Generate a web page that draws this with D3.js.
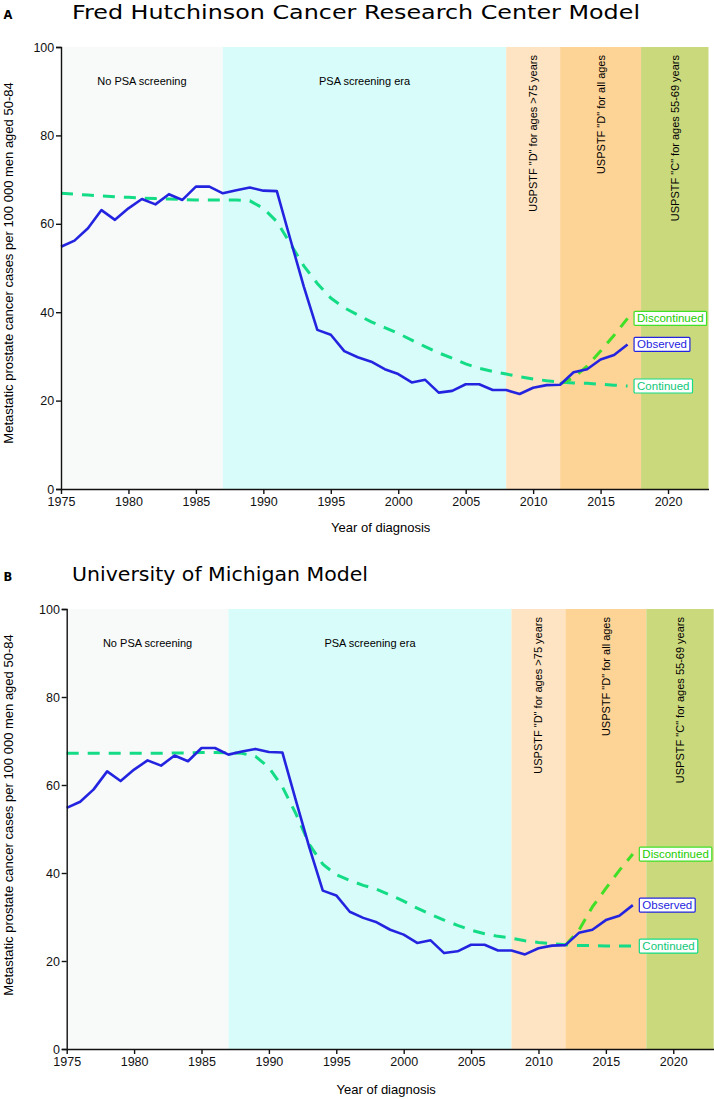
<!DOCTYPE html>
<html><head><meta charset="utf-8">
<script src="https://cdn.jsdelivr.net/npm/d3@7"></script>
<style>body{margin:0;background:#fff}</style>
</head><body>
<svg id="chart" width="714" height="1099"></svg>
<script>
// ---------- data ----------
const years = [1975,1976,1977,1978,1979,1980,1981,1982,1983,1984,1985,1986,1987,1988,1989,1990,1991,1992,1993,1994,1995,1996,1997,1998,1999,2000,2001,2002,2003,2004,2005,2006,2007,2008,2009,2010,2011,2012,2013,2014,2015,2016,2017];
const observed = [54.8,56.2,59.0,63.1,60.9,63.5,65.6,64.4,66.7,65.4,68.4,68.4,66.9,67.6,68.2,67.5,67.4,56.5,45.8,36.0,34.9,31.2,29.8,28.8,27.1,26.0,24.1,24.7,21.8,22.2,23.7,23.7,22.4,22.4,21.5,22.9,23.5,23.6,26.4,27.1,29.3,30.3,32.7];
const fhContinued = [66.9,66.7,66.5,66.3,66.1,66.0,65.8,65.7,65.6,65.5,65.4,65.4,65.4,65.4,65.2,63.5,60.5,55.5,50.5,46.5,43.2,41.0,39.4,37.8,36.5,35.2,33.7,32.2,30.8,29.6,28.3,27.3,26.6,26.0,25.4,24.9,24.5,24.2,24.0,23.9,23.7,23.5,23.3];
const umContinued = [67.2,67.2,67.2,67.2,67.2,67.2,67.2,67.2,67.3,67.3,67.4,67.4,67.3,67.2,66.5,64.0,59.6,53.5,46.5,42.0,39.6,38.3,37.2,36.3,35.0,33.6,32.0,30.6,29.3,28.1,27.0,26.2,25.6,25.2,24.6,24.2,23.9,23.7,23.5,23.5,23.4,23.4,23.4];
const discYears = [2012,2013,2014,2015,2016,2017];
const fhDiscontinued = [23.8,25.2,27.8,31.2,34.8,38.6];
const umDiscontinued = [23.6,27.0,32.3,36.5,40.6,44.3];
const bandStarts = [1975,1987,2008,2012,2018];
const bandEnds = [1987,2008,2012,2018,2023];
const bandLabels = ["No PSA screening","PSA screening era",'USPSTF "D" for ages >75 years','USPSTF "D" for all ages','USPSTF "C" for ages 55-69 years'];
const bandVertical = [false,false,true,true,true];
const xTicks = [1975,1980,1985,1990,1995,2000,2005,2010,2015,2020];
const yTicks = [0,20,40,60,80,100];
const panelLetters = ["A","B"];
const panelTitles = ["Fred Hutchinson Cancer Research Center Model","University of Michigan Model"];
const seriesNames = ["Discontinued","Observed","Continued"];
const xTitle = "Year of diagnosis";
const yTitle = "Metastatic prostate cancer cases per 100 000 men aged 50-84";

// ---------- styles / layout ----------
const bandColors = ["#f7faf9","#d8fcf9","#fee4c2","#fdd396","#cbd97d"];
const colObserved = "#2424e0";
const colContinued = "#14dc86";
const colDiscont = "#3fe026";
const layouts = [
  {left:61, right:708.5, top:47, bottom:489, titleY:18.5, titleW:568, xLabY:532, yLabX:13, yLabY:263},
  {left:66.7, right:713.7, top:609, bottom:1049, titleY:581, titleW:296, xLabY:1094, yLabX:13, yLabY:815}
];
const continuedSets = [fhContinued, umContinued];
const discSets = [fhDiscontinued, umDiscontinued];

const svg = d3.select("#chart");

layouts.forEach((L, pi) => {
  const g = svg.append("g");
  const x = d3.scaleLinear().domain([1975, 2023]).range([L.left, L.right]);
  const y = d3.scaleLinear().domain([0, 100]).range([L.bottom, L.top]);

  // panel letter and title
  g.append("text").attr("x", 3.5).attr("y", L.titleY)
    .attr("font-family", "DejaVu Sans").attr("font-weight", "bold").attr("font-size", 11.5)
    .text(panelLetters[pi]);
  g.append("text").attr("x", 72).attr("y", L.titleY)
    .attr("font-family", "DejaVu Sans").attr("font-size", 19.5)
    .attr("textLength", L.titleW).attr("lengthAdjust", "spacingAndGlyphs")
    .text(panelTitles[pi]);

  // bands
  bandStarts.forEach((s, i) => {
    g.append("rect").attr("x", x(s)).attr("y", y(100))
      .attr("width", x(bandEnds[i]) - x(s)).attr("height", y(0) - y(100))
      .attr("fill", bandColors[i]);
    const cx = (x(s) + x(bandEnds[i])) / 2;
    if (bandVertical[i]) {
      g.append("text").attr("transform", `translate(${cx + 4},${y(100) + 8}) rotate(-90)`)
        .attr("text-anchor", "end").attr("font-family", "Liberation Sans").attr("font-size", 11)
        .text(bandLabels[i]);
    } else {
      g.append("text").attr("x", cx).attr("y", y(100) + 38)
        .attr("text-anchor", "middle").attr("font-family", "Liberation Sans").attr("font-size", 11)
        .text(bandLabels[i]);
    }
  });

  // lines
  const line = d3.line().x((d) => x(d[0])).y((d) => y(d[1]));
  const contData = years.map((yr, i) => [yr, continuedSets[pi][i]]);
  const discData = discYears.map((yr, i) => [yr, discSets[pi][i]]);
  const obsData = years.map((yr, i) => [yr, observed[i]]);
  g.append("path").datum(contData).attr("d", line).attr("fill", "none")
    .attr("stroke", colContinued).attr("stroke-width", 3).attr("stroke-dasharray", "12,9");
  g.append("path").datum(discData).attr("d", line).attr("fill", "none")
    .attr("stroke", colDiscont).attr("stroke-width", 3).attr("stroke-dasharray", "12,9");
  g.append("path").datum(obsData).attr("d", line).attr("fill", "none")
    .attr("stroke", colObserved).attr("stroke-width", 2.6).attr("stroke-linejoin", "round");

  // end labels
  const ends = [
    [discYears[discYears.length - 1], discSets[pi][discSets[pi].length - 1], colDiscont, "#22cc00"],
    [years[years.length - 1], observed[observed.length - 1], colObserved, colObserved],
    [years[years.length - 1], continuedSets[pi][continuedSets[pi].length - 1], colContinued, "#10c878"]
  ];
  ends.forEach((e, i) => {
    const lg = g.append("g").attr("transform", `translate(${x(e[0]) + 6},${y(e[1])})`);
    const t = lg.append("text").attr("x", 3.5).attr("y", 4)
      .attr("font-family", "Liberation Sans").attr("font-size", 11.5).attr("fill", e[3])
      .text(seriesNames[i]);
    const w = t.node().getComputedTextLength();
    lg.insert("rect", "text").attr("x", 0.5).attr("y", -7).attr("width", w + 6).attr("height", 14)
      .attr("fill", "#fff").attr("stroke", e[2]).attr("stroke-width", 1.2).attr("rx", 1);
  });

  // axes
  const xa = g.append("g").attr("transform", `translate(0,${L.bottom})`)
    .call(d3.axisBottom(x).tickValues(xTicks).tickFormat(d3.format("d")).tickSize(5).tickSizeOuter(0));
  const ya = g.append("g").attr("transform", `translate(${L.left},0)`)
    .call(d3.axisLeft(y).tickValues(yTicks).tickSize(5).tickSizeOuter(5));
  [xa, ya].forEach((a) => {
    a.selectAll("path,line").attr("stroke", "#111").attr("stroke-width", 1.4);
    a.selectAll("text").attr("font-family", "Liberation Sans").attr("font-size", 12.5).attr("fill", "#111");
  });
  ya.selectAll("text").attr("dx", "0.1em");

  // axis titles
  g.append("text").attr("x", (L.left + L.right) / 2 - 4).attr("y", L.xLabY)
    .attr("text-anchor", "middle").attr("font-family", "Liberation Sans").attr("font-size", 13)
    .text(xTitle);
  g.append("text").attr("transform", `translate(${L.yLabX},${L.yLabY}) rotate(-90)`)
    .attr("text-anchor", "middle").attr("font-family", "Liberation Sans").attr("font-size", 13)
    .text(yTitle);
});
</script>
</body></html>
